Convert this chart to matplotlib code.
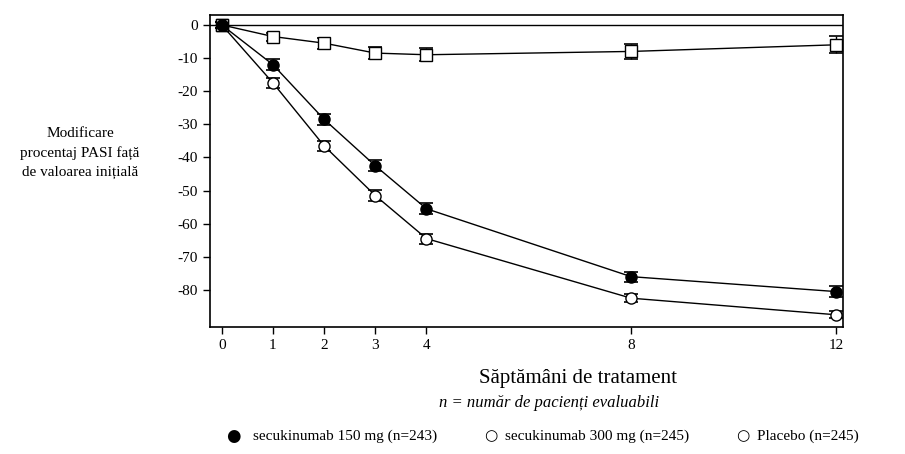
import matplotlib
matplotlib.use("Agg")
import matplotlib.pyplot as plt

plt.rcParams['font.family'] = ['Liberation Serif', 'DejaVu Serif']

weeks = [0, 1, 2, 3, 4, 8, 12]
sec150 = [0, -12, -28.5, -42.5, -55.5, -76, -80.5]
sec150_err = [0.8, 1.6, 1.6, 1.7, 1.7, 1.5, 1.6]
sec300 = [0, -17.5, -36.5, -51.5, -64.5, -82.5, -87.5]
sec300_err = [0.8, 1.5, 1.6, 1.6, 1.5, 1.2, 1.1]
placebo = [0, -3.5, -5.5, -8.5, -9, -8, -6]
placebo_err = [0.8, 1.2, 1.7, 1.8, 2.0, 2.2, 2.6]
yticks = [0, -10, -20, -30, -40, -50, -60, -70, -80]

fig = plt.figure(figsize=(9.05, 4.54), dpi=100)
ax = fig.add_axes([210/905, 1-327/454, 633/905, 312/454])

ax.axhline(0, color='black', lw=1)
eb = dict(color='black', lw=1, capsize=5, elinewidth=1, capthick=1.2, ms=8)
ax.errorbar(weeks, placebo, yerr=placebo_err, marker='s', mfc='white', mec='black', **eb)
ax.errorbar(weeks, sec300, yerr=sec300_err, marker='o', mfc='white', mec='black', **eb)
ax.errorbar(weeks, sec150, yerr=sec150_err, marker='o', mfc='black', mec='black', **eb)
ax.plot([0], [0], marker='s', color='black', ms=8)

ax.set_xlim(-0.23, 12.14)
ax.set_ylim(-91.2, 3)
ax.set_xticks(weeks)
ax.set_yticks(yticks)
ax.set_yticklabels([str(v) for v in yticks])
ax.tick_params(labelsize=11, direction='out', length=5, width=1)
for s in ax.spines.values():
    s.set_linewidth(1.2)

fig.text(80/905, 1-153/454, "Modificare\nprocentaj PASI față\nde valoarea inițială",
         ha='center', va='center', fontsize=11, linespacing=1.6)
fig.text(578/905, 1-378/454, "Săptămâni de tratament", ha='center', va='center', fontsize=15)
fig.text(549/905, 1-403/454, "n = număr de pacienți evaluabili", ha='center', va='center',
         fontsize=12, style='italic')

fig.text(233/905, 1-436/454, "●", ha='center', va='center', fontsize=12, family=['DejaVu Sans'])
fig.text(253/905, 1-436/454, "secukinumab 150 mg (n=243)", ha='left', va='center', fontsize=11)
fig.text(491/905, 1-436/454, "○", ha='center', va='center', fontsize=11, family=['DejaVu Sans'], fontweight='bold')
fig.text(505/905, 1-436/454, "secukinumab 300 mg (n=245)", ha='left', va='center', fontsize=11)
fig.text(743/905, 1-436/454, "○", ha='center', va='center', fontsize=11, family=['DejaVu Sans'], fontweight='bold')
fig.text(757/905, 1-436/454, "Placebo (n=245)", ha='left', va='center', fontsize=11)

fig.savefig("out.png", dpi=100)
